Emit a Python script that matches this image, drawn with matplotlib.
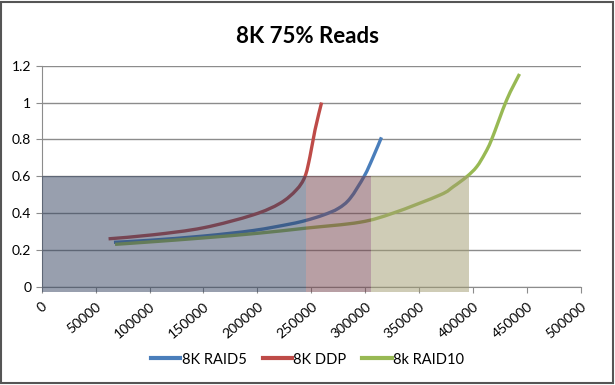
import matplotlib
matplotlib.use("Agg")
import matplotlib.pyplot as plt
from matplotlib.patches import Rectangle, PathPatch
from matplotlib.path import Path
from matplotlib.lines import Line2D

plt.rcParams['font.family'] = ['Lato', 'DejaVu Sans']

# ---------------- data ----------------
raid5_x = [67000, 100000, 150000, 196000, 230000, 245000, 261000, 275000, 286000, 299000, 307000, 315000]
raid5_y = [0.241, 0.252, 0.275, 0.305, 0.340, 0.360, 0.389, 0.425, 0.480, 0.600, 0.700, 0.811]

ddp_x = [62000, 103500, 150000, 196000, 221000, 236000, 244000, 248700, 253400, 259500]
ddp_y = [0.260, 0.282, 0.320, 0.390, 0.453, 0.525, 0.597, 0.706, 0.851, 1.000]

raid10_x = [68000, 100000, 150000, 200000, 245000, 295000, 326000, 369300, 381600,
            394000, 403300, 411000, 417200, 431100, 443000]
raid10_y = [0.230, 0.243, 0.265, 0.290, 0.318, 0.350, 0.400, 0.498, 0.543,
            0.597, 0.651, 0.724, 0.800, 1.014, 1.155]

# shaded zones
zone_start = [0, 245000, 305000]
zone_end = [245000, 305000, 396500]
zone_top = 0.6

x_ticks = list(range(0, 500001, 50000))
y_ticks = [0, 0.2, 0.4, 0.6, 0.8, 1, 1.2]
y_tick_labels = ["0", "0.2", "0.4", "0.6", "0.8", "1", "1.2"]


# smoothed line like excel: bezier path through the points, in display space
def smooth_line(ax, xs, ys, color, lw):
    pts = ax.transData.transform(list(zip(xs, ys)))
    verts = [pts[0]]
    codes = [Path.MOVETO]
    n = len(pts)
    for i in range(n - 1):
        p0 = pts[i - 1] if i > 0 else pts[i]
        p1 = pts[i]
        p2 = pts[i + 1]
        p3 = pts[i + 2] if i + 2 < n else pts[i + 1]
        c1 = p1 + (p2 - p0) / 6.0
        c2 = p2 - (p3 - p1) / 6.0
        verts += [c1, c2, p2]
        codes += [Path.CURVE4] * 3
    patch = PathPatch(Path(verts, codes), facecolor="none", edgecolor=color, lw=lw,
                      transform=None, zorder=3, capstyle="butt", joinstyle="round")
    ax.add_artist(patch)


# --------------------------------------
fig = plt.figure(figsize=(6.15, 3.85), dpi=100)
ax = fig.add_axes([0.0678, 0.2553, 0.8769, 0.5741])

ax.set_xlim(0, 500000)
ax.set_ylim(0, 1.2)

lw = 2.4
smooth_line(ax, raid5_x, raid5_y, "#4A7EBB", lw)
smooth_line(ax, ddp_x, ddp_y, "#BE4B48", lw)
smooth_line(ax, raid10_x, raid10_y, "#98B954", lw)

zone_colors = ["#32415F", "#73414B", "#A19B6F"]
for x0, x1, c in zip(zone_start, zone_end, zone_colors):
    ax.add_patch(Rectangle((x0, -0.03), x1 - x0, zone_top + 0.03, facecolor=c,
                           alpha=0.5, edgecolor="none", zorder=4, clip_on=False))

ax.set_xticks(x_ticks)
ax.set_xticklabels([str(v) for v in x_ticks], rotation=40, ha="right",
                   rotation_mode="anchor", fontsize=10)
ax.set_yticks(y_ticks)
ax.set_yticklabels(y_tick_labels, fontsize=10)

ax.grid(axis="y", color="#8C8C8C", lw=1)
ax.set_axisbelow(True)
for s in ["top", "right"]:
    ax.spines[s].set_visible(False)
for s in ["left", "bottom"]:
    ax.spines[s].set_color("#8C8C8C")
ax.tick_params(axis="both", color="#8C8C8C", length=4, direction="out")
ax.tick_params(axis="x", pad=6)

fig.text(0.5, 0.905, "8K 75% Reads", ha="center", va="center",
         fontsize=16, fontweight="bold")

handles = [Line2D([], [], color="#4A7EBB", lw=3),
           Line2D([], [], color="#BE4B48", lw=3),
           Line2D([], [], color="#98B954", lw=3)]
fig.legend(handles, ["8K RAID5", "8K DDP", "8k RAID10"], loc="center",
           bbox_to_anchor=(0.5, 0.066), ncol=3, frameon=False, fontsize=10.5,
           handlelength=2.0, handletextpad=0.1, columnspacing=1.1)

fig.patches.append(Rectangle((0.002, 0.004), 0.994, 0.992, transform=fig.transFigure,
                             fill=False, edgecolor="#555555", lw=1.5))

fig.savefig("out.png", dpi=100)
